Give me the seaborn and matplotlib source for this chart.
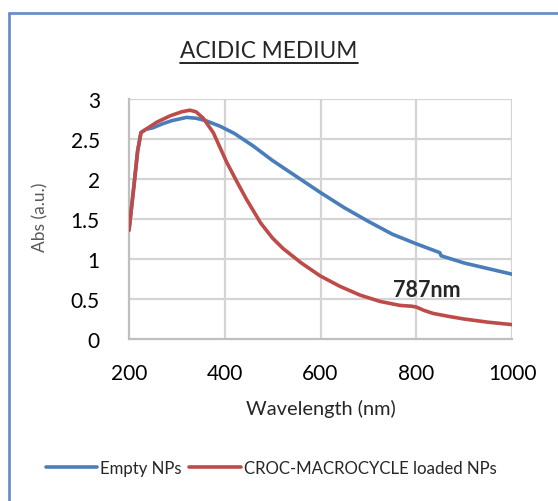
import matplotlib
matplotlib.use('Agg')
import numpy as np
import pandas as pd
import seaborn as sns
import matplotlib.pyplot as plt
from matplotlib.lines import Line2D

# spectra
wl_empty = [200, 210, 218, 225, 235, 250, 270, 290, 320, 340, 360, 390, 420, 460, 500,
            550, 600, 650, 700, 750, 800, 849, 852, 900, 950, 1000]
abs_empty = [1.36, 1.9, 2.35, 2.58, 2.62, 2.64, 2.69, 2.73, 2.77, 2.76, 2.73, 2.66, 2.57, 2.41, 2.23,
             2.03, 1.83, 1.64, 1.47, 1.31, 1.19, 1.08, 1.04, 0.95, 0.88, 0.81]

wl_loaded = [200, 210, 218, 225, 235, 258, 286, 310, 327, 340, 355, 376, 404, 425, 445, 475, 500,
             522, 560, 599, 640, 682, 724, 766, 790, 800, 815, 835, 870, 900, 950, 1000]
abs_loaded = [1.36, 1.9, 2.35, 2.58, 2.62, 2.71, 2.79, 2.84, 2.86, 2.84, 2.76, 2.58, 2.21, 1.97, 1.75, 1.45, 1.26,
              1.13, 0.95, 0.79, 0.66, 0.55, 0.47, 0.42, 0.41, 0.40, 0.36, 0.32, 0.28, 0.25, 0.21, 0.18]

series_names = ["Empty NPs", "CROC-MACROCYCLE loaded NPs"]
peak_label = "787nm"
xticks = [200, 400, 600, 800, 1000]
yticks = [0, 0.5, 1, 1.5, 2, 2.5, 3]
ytick_labels = ["0", "0.5", "1", "1.5", "2", "2.5", "3"]

df = pd.concat([
    pd.DataFrame({"wl": wl_empty, "abs": abs_empty, "sample": series_names[0]}),
    pd.DataFrame({"wl": wl_loaded, "abs": abs_loaded, "sample": series_names[1]}),
])

sns.set_style("white")
plt.rcParams['font.family'] = ['Lato', 'DejaVu Sans']

fig = plt.figure(figsize=(5.58, 5.02), dpi=100)
ax = fig.add_axes([0.2312, 0.3227, 0.6864, 0.4781])

sns.lineplot(data=df, x="wl", y="abs", hue="sample", sort=False,
             palette=["#4a7ebb", "#be4b48"], linewidth=2.6, ax=ax, legend=False, zorder=3)

ax.set_xlim(200, 1000)
ax.set_ylim(0, 3)
ax.set_xticks(xticks)
ax.set_yticks(yticks)
ax.set_yticklabels(ytick_labels)

# Excel style gridlines
for v in xticks[1:]:
    ax.axvline(v, color="#d4d4d4", linewidth=1.6, zorder=1)
for v in yticks[1:]:
    ax.axhline(v, color="#d4d4d4", linewidth=1.6, zorder=1)

for s in ["top", "right"]:
    ax.spines[s].set_visible(False)
for s in ["left", "bottom"]:
    ax.spines[s].set_color("#bfbfbf")
    ax.spines[s].set_linewidth(1.6)
ax.tick_params(length=0, labelsize=15, labelcolor="black")
ax.tick_params(axis="y", pad=21)
ax.tick_params(axis="x", pad=17)

ax.set_xlabel("Wavelength (nm)", fontsize=14.4)
ax.xaxis.set_label_coords(0.5, -0.25)
ax.set_ylabel("Abs (a.u.)", fontsize=12.5, color="#595959")
ax.yaxis.set_label_coords(-0.211, 0.5125)

ax.text(752, 0.625, peak_label, fontsize=15.5, fontweight="bold", ha="left", va="center", zorder=4)

# title with underline
title = fig.text(0.482, 1 - 52 / 502, "ACIDIC MEDIUM", fontsize=16.3, ha="center", va="center")
fig.canvas.draw()
bb = title.get_window_extent()
W, H = fig.bbox.width, fig.bbox.height
uy = (502 - 63.5) / 502
fig.add_artist(Line2D([bb.x0 / W, bb.x1 / W], [uy, uy], color="black", linewidth=1.2))

# outer frame
fig.add_artist(Line2D([8.5 / 558, 8.5 / 558], [0, 1 - 14 / 502], color="#6a8fc8", linewidth=2))
fig.add_artist(Line2D([8.5 / 558, 1], [1 - 14 / 502, 1 - 14 / 502], color="#6a8fc8", linewidth=2))

handles = [Line2D([], [], color="#4a7ebb", linewidth=2.6),
           Line2D([], [], color="#be4b48", linewidth=2.6)]
fig.legend(handles, series_names, loc="center", bbox_to_anchor=(0.486, 0.0657), ncol=2,
           frameon=False, fontsize=12.1, handlelength=3.05, handletextpad=0.2, columnspacing=0.45)

fig.savefig("out.png", dpi=100)
